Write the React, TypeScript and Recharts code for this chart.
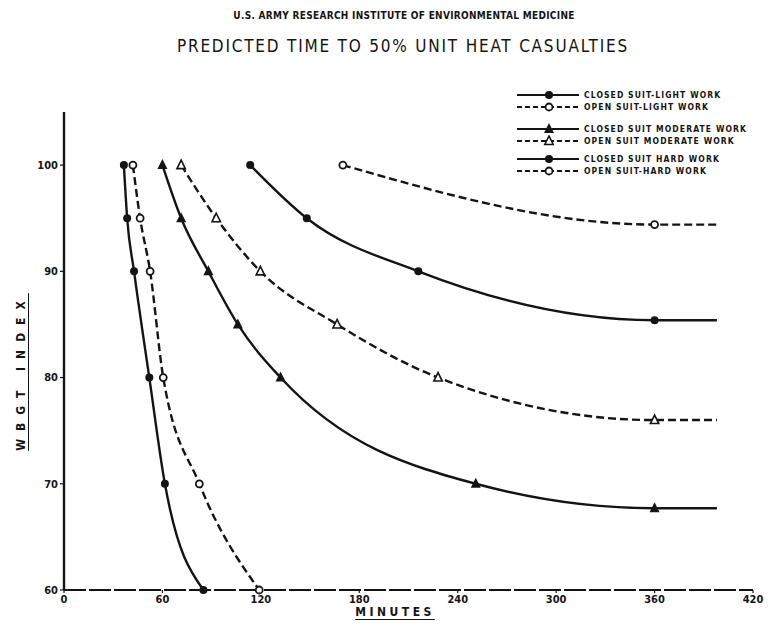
import React from 'react';
import { LineChart, Line, XAxis, YAxis } from 'recharts';

// readings taken off the original figure (minutes, WBGT index)
// last point of the four light/moderate curves is the end of the extension line past 360 min
const closedLightMin = [113.5, 148, 216, 360, 398];
const closedLightWbgt = [100, 95, 90, 85.4, 85.4];

const openLightMin = [170, 360, 398];
const openLightWbgt = [100, 94.4, 94.4];

const closedModMin = [60, 71.4, 88, 106, 132, 251, 360, 398];
const closedModWbgt = [100, 95, 90, 85, 80, 70, 67.7, 67.7];

const openModMin = [71.4, 92.8, 119.7, 166.5, 228, 360, 398];
const openModWbgt = [100, 95, 90, 85, 80, 76, 76];

const closedHardMin = [36.5, 38.5, 42.7, 52, 61.5, 85];
const closedHardWbgt = [100, 95, 90, 80, 70, 60];

const openHardMin = [42, 46.4, 52.5, 60.5, 82.5, 119];
const openHardWbgt = [100, 95, 90, 80, 70, 60];

const xTicks = [0, 60, 120, 180, 240, 300, 360, 420];
const yTicks = [60, 70, 80, 90, 100];
const lastReadingMin = 360;

const legendLabels = [
  'CLOSED SUIT-LIGHT WORK',
  'OPEN SUIT-LIGHT WORK',
  'CLOSED SUIT MODERATE WORK',
  'OPEN SUIT MODERATE WORK',
  'CLOSED SUIT HARD WORK',
  'OPEN SUIT-HARD WORK',
];

const toRows = (mins: number[], vals: number[]) => mins.map((m, i) => ({ min: m, wbgt: vals[i] }));

const INK = '#141414';
const FONT = '"DejaVu Sans Condensed", "DejaVu Sans", sans-serif';

type Shape = 'dot' | 'ring' | 'tri' | 'otri';

function Marker({ shape, cx, cy }: { shape: Shape; cx: number; cy: number }) {
  if (shape === 'dot') return <circle cx={cx} cy={cy} r={4} fill={INK} />;
  if (shape === 'ring') return <circle cx={cx} cy={cy} r={3.5} fill="#fff" stroke={INK} strokeWidth={1.8} />;
  if (shape === 'tri') return <polygon points={`${cx},${cy - 6} ${cx - 5},${cy + 4} ${cx + 5},${cy + 4}`} fill={INK} />;
  return <polygon points={`${cx},${cy - 5} ${cx - 4.2},${cy + 3.5} ${cx + 4.2},${cy + 3.5}`} fill="#fff" stroke={INK} strokeWidth={1.6} />;
}

const makeDot = (name: string, shape: Shape) => (props: any) => {
  const { cx, cy, index, payload } = props;
  if (cx == null || cy == null || payload.min > lastReadingMin) return <g key={`${name}-${index}`} />;
  return (
    <g key={`${name}-${index}`}>
      <Marker shape={shape} cx={cx} cy={cy} />
    </g>
  );
};

const series = [
  { name: 'closedLight', data: toRows(closedLightMin, closedLightWbgt), shape: 'dot' as Shape, dashed: false },
  { name: 'openLight', data: toRows(openLightMin, openLightWbgt), shape: 'ring' as Shape, dashed: true },
  { name: 'closedMod', data: toRows(closedModMin, closedModWbgt), shape: 'tri' as Shape, dashed: false },
  { name: 'openMod', data: toRows(openModMin, openModWbgt), shape: 'otri' as Shape, dashed: true },
  { name: 'closedHard', data: toRows(closedHardMin, closedHardWbgt), shape: 'dot' as Shape, dashed: false },
  { name: 'openHard', data: toRows(openHardMin, openHardWbgt), shape: 'ring' as Shape, dashed: true },
];

const legendRowsY = [95, 107, 129, 141, 159, 171];

export default function App() {
  return (
    <div style={{ position: 'relative', width: 768, height: 637, background: '#fff', fontFamily: FONT, color: INK }}>
      <style>{`body{margin:0;background:#fff}`}</style>

      <div style={{ position: 'absolute', left: 0, width: 808, top: 10, textAlign: 'center', fontSize: 10, fontWeight: 'bold', letterSpacing: 0.3 }}>
        U.S. ARMY RESEARCH INSTITUTE OF ENVIRONMENTAL MEDICINE
      </div>
      <div style={{ position: 'absolute', left: 0, width: 806, top: 36, textAlign: 'center', fontSize: 17, letterSpacing: 1.8 }}>
        PREDICTED TIME TO 50% UNIT HEAT CASUALTIES
      </div>

      <LineChart width={768} height={637} margin={{ top: 112, right: 15, bottom: 22, left: 0 }} style={{ position: 'absolute', left: 0, top: 0 }}>
        <XAxis
          dataKey="min"
          type="number"
          domain={[0, 420]}
          ticks={xTicks}
          allowDuplicatedCategory={false}
          height={25}
          tickSize={3}
          axisLine={{ stroke: INK, strokeWidth: 1.8, strokeDasharray: '22 3' }}
          tickLine={{ stroke: INK, strokeWidth: 1.2 }}
          tick={{ fill: INK, fontSize: 11, fontWeight: 'bold', fontFamily: FONT }}
        />
        <YAxis
          type="number"
          domain={[60, 105]}
          ticks={yTicks}
          width={64}
          tickSize={4}
          axisLine={{ stroke: INK, strokeWidth: 2.4 }}
          tickLine={{ stroke: INK, strokeWidth: 1.2 }}
          tick={{ fill: INK, fontSize: 11, fontWeight: 'bold', fontFamily: FONT }}
        />
        {series.map((s) => (
          <Line
            key={s.name}
            data={s.data}
            dataKey="wbgt"
            type="monotone"
            stroke={INK}
            strokeWidth={2.4}
            strokeDasharray={s.dashed ? '8 4' : undefined}
            dot={makeDot(s.name, s.shape)}
            activeDot={false}
            isAnimationActive={false}
          />
        ))}
      </LineChart>

      {/* legend */}
      {legendLabels.map((label, i) => (
        <div key={label} style={{ position: 'absolute', left: 515, top: legendRowsY[i] - 6, height: 12, display: 'flex', alignItems: 'center' }}>
          <svg width={66} height={12}>
            <line x1={2} y1={6} x2={64} y2={6} stroke={INK} strokeWidth={1.8} strokeDasharray={series[i].dashed ? '5 3' : undefined} />
            <Marker shape={series[i].shape} cx={34} cy={6} />
          </svg>
          <span style={{ marginLeft: 3, fontSize: 8.5, fontWeight: 'bold', letterSpacing: 1.1, whiteSpace: 'nowrap' }}>{label}</span>
        </div>
      ))}

      {/* axis titles */}
      <div
        style={{
          position: 'absolute', left: 21, top: 372, transform: 'translate(-50%, -50%) rotate(-90deg)',
          fontSize: 12, fontWeight: 'bold', letterSpacing: 8, whiteSpace: 'nowrap', textDecoration: 'underline', textUnderlineOffset: 3,
        }}
      >
        WBGT INDEX
      </div>
      <div
        style={{
          position: 'absolute', left: 395, top: 612, transform: 'translate(-50%, -50%)',
          fontSize: 12, fontWeight: 'bold', letterSpacing: 3.5, whiteSpace: 'nowrap', textDecoration: 'underline', textUnderlineOffset: 3,
        }}
      >
        MINUTES
      </div>
    </div>
  );
}
